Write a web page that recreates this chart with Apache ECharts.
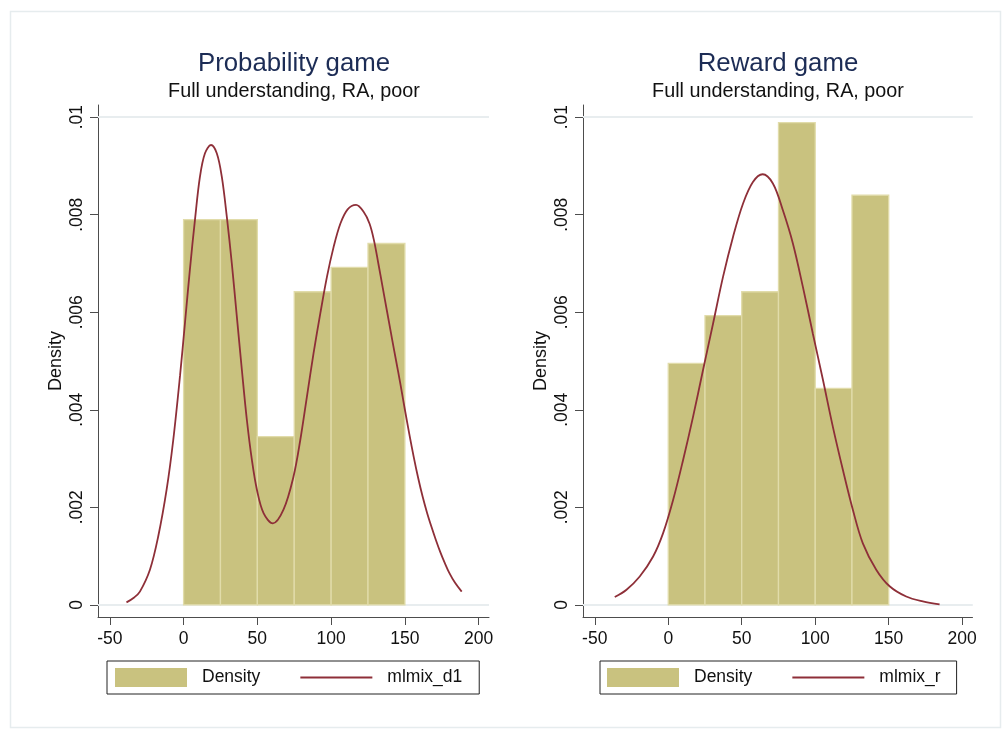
<!DOCTYPE html>
<html><head><meta charset="utf-8">
<script src="https://cdn.jsdelivr.net/npm/echarts@6/dist/echarts.min.js"></script>
<style>html,body{margin:0;padding:0;background:#fff}#c{width:1007px;height:734px}</style>
</head><body><div id="c"></div>
<script>
// ---- data ----
const binEdges = [0, 25, 50, 75, 100, 125, 150];
const probDensity = [0.0079, 0.0079, 0.00345, 0.00642, 0.00692, 0.00741];
const rewardDensity = [0.00495, 0.00593, 0.00642, 0.00989, 0.00444, 0.0084];

const probCurveX = [-38.7, -33.5, -29.6, -22.8, -17.2, -11.5, -7, -2.4, 1, 4.3, 7.7, 11.1, 14.5, 18.6, 22.5, 25.9, 29.3, 32.7, 36.1, 39.5, 42.9, 46.3, 49.7, 54.2, 60.5, 67.7, 74.5, 79.1, 83.6, 88.1, 92.7, 97.2, 101.7, 106.3, 111.2, 116.9, 122, 126, 129, 132, 135, 138, 141, 144, 147, 150, 153, 156, 159, 162, 165, 168, 171, 174, 177, 180, 184, 188.5];
const probCurveY = [0.00005, 0.00015, 0.00027, 0.00072, 0.0014, 0.00236, 0.00338, 0.0047, 0.0058, 0.00688, 0.00789, 0.00878, 0.00926, 0.00943, 0.00926, 0.00878, 0.00796, 0.007, 0.00591, 0.00482, 0.00379, 0.00297, 0.00236, 0.00188, 0.00167, 0.00195, 0.00263, 0.00338, 0.00427, 0.00516, 0.00598, 0.00673, 0.00734, 0.00782, 0.00811, 0.0082, 0.00806, 0.00782, 0.00748, 0.007, 0.0065, 0.006, 0.0055, 0.00501, 0.00452, 0.004, 0.0035, 0.00303, 0.0026, 0.00222, 0.00189, 0.0016, 0.00133, 0.00108, 0.00086, 0.00066, 0.00045, 0.00027];

const rewardCurveX = [-36.4, -28.4, -19.4, -10.3, -3.5, 3.3, 10.1, 16.9, 23.7, 30.5, 37.3, 44.1, 50.9, 57.6, 64.2, 71.2, 78, 84.8, 91.6, 98.4, 105.2, 112, 118.8, 125.6, 132.4, 141.5, 150.6, 161.9, 173.2, 184.6];
const rewardCurveY = [0.00016, 0.00031, 0.00058, 0.00099, 0.00147, 0.00215, 0.00297, 0.00386, 0.00482, 0.00577, 0.00673, 0.00755, 0.00823, 0.00867, 0.00883, 0.00864, 0.00809, 0.00741, 0.00652, 0.00556, 0.00462, 0.00365, 0.00277, 0.00195, 0.00126, 0.00072, 0.00038, 0.00017, 0.00007, 0.00001];

const xTicks = [-50, 0, 50, 100, 150, 200];
const yTicks = [0, 0.002, 0.004, 0.006, 0.008, 0.01];
const titles = ['Probability game', 'Reward game'];
const subtitles = ['Full understanding, RA, poor', 'Full understanding, RA, poor'];
const histName = 'Density';
const curveNames = ['mlmix_d1', 'mlmix_r'];
const yAxisName = 'Density';

// ---- styling ----
const FONT = '"Liberation Sans", Arial, sans-serif';
const BAR = '#c9c27f';
const BAR_EDGE = '#e1dcaa';
const CURVE = '#8e2f38';
const AXIS = '#4d4d4d';
const GRIDC = '#e7ecef';
const LINE_ICON = 'path://M0,0 M0,8.6 L72,8.6 L72,10.4 L0,10.4 Z M72,19';

function histData(d) { return d.map((v, i) => [binEdges[i], binEdges[i + 1], v]); }
function curveData(xs, ys) { return xs.map((x, i) => [x, ys[i]]); }

function renderBar(params, api) {
  const x0 = api.value(0), x1 = api.value(1), y = api.value(2);
  const p0 = api.coord([x0, y]), p1 = api.coord([x1, 0]);
  return {
    type: 'rect',
    shape: { x: p0[0], y: p0[1], width: p1[0] - p0[0], height: p1[1] - p0[1] },
    style: { fill: BAR, stroke: BAR_EDGE, lineWidth: 1.3 }
  };
}

const grids = [
  { left: 98, right: 1007 - 489, top: 105, bottom: 734 - 617 },
  { left: 583, right: 1007 - 972.5, top: 105, bottom: 734 - 617 }
];
const centers = [294, 778];

function xAxisOf(i) {
  return {
    type: 'value', gridIndex: i, min: -58, max: 207,
    axisLine: { show: true, onZero: false, lineStyle: { color: AXIS, width: 1 } },
    axisTick: { show: true, length: 8, customValues: xTicks, lineStyle: { color: AXIS } },
    axisLabel: { customValues: xTicks, margin: 13, fontSize: 17.5, color: '#111', fontFamily: FONT },
    splitLine: { show: false }
  };
}
function yAxisOf(i) {
  return {
    type: 'value', gridIndex: i, min: -0.00025, max: 0.01025,
    name: yAxisName, nameLocation: 'middle', nameGap: 33,
    nameTextStyle: { fontSize: 18, color: '#111', fontFamily: FONT },
    axisLine: { show: true, onZero: false, lineStyle: { color: AXIS, width: 1 } },
    axisTick: { show: true, length: 8, customValues: yTicks, lineStyle: { color: AXIS } },
    axisLabel: {
      customValues: yTicks, rotate: 90, margin: 12, fontSize: 17.5, color: '#111', fontFamily: FONT,
      formatter: v => (v === 0 ? '0' : String(v).replace(/^0/, ''))
    },
    splitLine: { show: false }
  };
}

const hists = [probDensity, rewardDensity];
const curves = [[probCurveX, probCurveY], [rewardCurveX, rewardCurveY]];

const series = [];
[0, 1].forEach(i => {
  series.push({
    type: 'custom', name: histName, xAxisIndex: i, yAxisIndex: i, z: 2,
    renderItem: renderBar, data: histData(hists[i]),
    itemStyle: { color: BAR },
    encode: { x: [0, 1], y: 2 },
    silent: true,
    markLine: {
      z: 1, silent: true, symbol: ['none', 'none'], label: { show: false },
      lineStyle: { color: GRIDC, width: 1.5, type: 'solid' },
      emphasis: { disabled: true },
      data: yTicks.map(v => ({ yAxis: v }))
    }
  });
  series.push({
    type: 'line', name: curveNames[i], xAxisIndex: i, yAxisIndex: i, z: 3,
    data: curveData(curves[i][0], curves[i][1]),
    symbol: 'none', showSymbol: false, smooth: 0.35,
    lineStyle: { color: CURVE, width: 1.8 }, itemStyle: { color: CURVE },
    silent: true
  });
});

const legendCommon = {
  top: 661, itemWidth: 72, itemHeight: 19, itemGap: 40,
  borderColor: '#222', borderWidth: 1, borderRadius: 0,
  selectedMode: false,
  textStyle: { fontSize: 17.5, color: '#111', fontFamily: FONT, padding: [6, 0, 0, 10] }
};

const option = {
  animation: false,
  backgroundColor: '#fff',
  title: [0, 1].map(i => ({
    text: titles[i], subtext: subtitles[i], left: centers[i], top: 51, textAlign: 'center',
    padding: 0, itemGap: 5,
    textStyle: { fontSize: 25.8, fontWeight: 'normal', color: '#1c2c55', fontFamily: FONT },
    subtextStyle: { fontSize: 19.8, color: '#111', fontFamily: FONT }
  })),
  grid: grids,
  xAxis: [xAxisOf(0), xAxisOf(1)],
  yAxis: [yAxisOf(0), yAxisOf(1)],
  legend: [
    Object.assign({}, legendCommon, { left: 107, padding: [7, 17, 7, 8], data: [{ name: histName, icon: 'rect' }, { name: curveNames[0], icon: LINE_ICON }] }),
    Object.assign({}, legendCommon, { left: 600, padding: [7, 16, 7, 7], data: [{ name: histName, icon: 'rect' }, { name: curveNames[1], icon: LINE_ICON }] })
  ],
  graphic: [{
    type: 'rect', left: 8, top: 9, silent: true, z: -10,
    shape: { width: 990, height: 716 },
    style: { fill: 'none', stroke: '#e6ecee', lineWidth: 1.5 }
  }],
  series: series
};

const chart = echarts.init(document.getElementById('c'), null, { renderer: 'canvas' });
chart.setOption(option);
</script>
</body></html>
